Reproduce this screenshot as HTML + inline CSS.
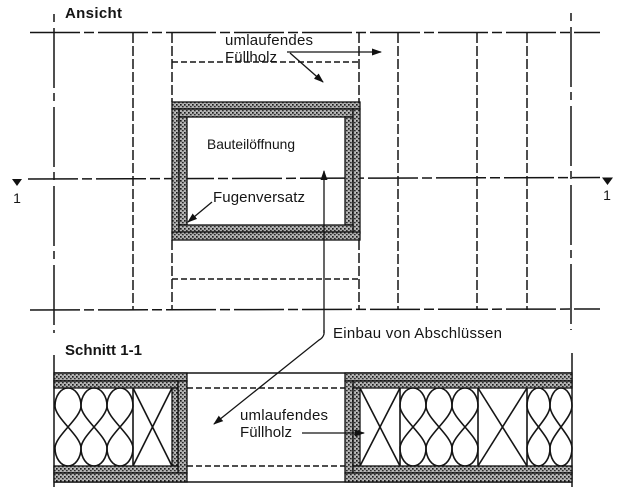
<!DOCTYPE html>
<html>
<head>
<meta charset="utf-8">
<style>
html,body{margin:0;padding:0;background:#fff;}
svg{display:block;}
text{font-family:"Liberation Sans",Arial,sans-serif;fill:#151515;}
</style>
</head>
<body>
<svg width="622" height="487" viewBox="0 0 622 487" xmlns="http://www.w3.org/2000/svg">
<defs>
  <pattern id="st" width="4" height="4" patternUnits="userSpaceOnUse">
    <rect width="4" height="4" fill="#a0a0a0"/>
    <rect x="0" y="0" width="1.6" height="1.6" fill="#1a1a1a"/>
    <rect x="2" y="2" width="1.6" height="1.2" fill="#2a2a2a"/>
    <rect x="2.6" y="0.3" width="1" height="1" fill="#ececec"/>
    <rect x="0.4" y="2.6" width="1" height="1" fill="#e4e4e4"/>
  </pattern>
  <marker id="ah" markerWidth="10" markerHeight="8" refX="9" refY="4" orient="auto" markerUnits="userSpaceOnUse">
    <path d="M0,0.5 L10,4 L0,7.5 Z" fill="#111"/>
  </marker>
</defs>

<g stroke="#151515" fill="none" stroke-width="1.5">
  <!-- ===== ANSICHT ===== -->
  <line x1="30" y1="32.5" x2="600" y2="32.5" stroke-dasharray="50 4 10 4"/>
  <line x1="30" y1="310" x2="600" y2="309" stroke-dasharray="50 4 10 4"/>
  <line x1="28" y1="179" x2="600" y2="177.5" stroke-dasharray="50 4 10 4"/>
  <line x1="54" y1="14" x2="54" y2="333" stroke-dasharray="8 6 60 5"/>
  <line x1="571" y1="13" x2="571" y2="330" stroke-dasharray="8 6 60 5"/>
  <g stroke-dasharray="10 3">
    <line x1="133" y1="33" x2="133" y2="310"/>
    <line x1="398" y1="33" x2="398" y2="310"/>
    <line x1="477" y1="33" x2="477" y2="310"/>
    <line x1="527" y1="33" x2="527" y2="310"/>
    <line x1="172" y1="33" x2="172" y2="102"/>
    <line x1="359" y1="33" x2="359" y2="102"/>
    <line x1="172" y1="240" x2="172" y2="310"/>
    <line x1="359" y1="240" x2="359" y2="310"/>
  </g>
  <g stroke-dasharray="6 3">
    <line x1="172" y1="62" x2="359" y2="62"/>
    <line x1="172" y1="279" x2="359" y2="279"/>
  </g>
</g>

<!-- section markers -->
<path d="M12,179 L22,179 L17,186 Z" fill="#111"/>
<text x="17" y="203" font-size="14" text-anchor="middle">1</text>
<path d="M602,177.5 L613,177.5 L607.5,185 Z" fill="#111"/>
<text x="607" y="200" font-size="14" text-anchor="middle">1</text>

<!-- frame boards (Ansicht) -->
<g fill="url(#st)" stroke="#111" stroke-width="1.3">
  <rect x="172" y="102" width="188" height="7"/>
  <rect x="179" y="109" width="174" height="8"/>
  <rect x="172" y="109" width="7" height="124"/>
  <rect x="179" y="117" width="8" height="108"/>
  <rect x="345" y="117" width="8" height="108"/>
  <rect x="353" y="109" width="7" height="124"/>
  <rect x="179" y="225" width="174" height="7"/>
  <rect x="172" y="232" width="188" height="8"/>
</g>

<!-- labels Ansicht -->
<text x="65" y="18" font-size="15" font-weight="bold" textLength="57">Ansicht</text>
<text x="225" y="45" font-size="15" textLength="88">umlaufendes</text>
<text x="225" y="62" font-size="15" textLength="52">Füllholz</text>
<text x="207" y="149" font-size="14" textLength="88" lengthAdjust="spacingAndGlyphs">Bauteilöffnung</text>
<text x="213" y="202" font-size="15" textLength="92">Fugenversatz</text>

<g stroke="#151515" stroke-width="1.3" fill="none">
  <line x1="287" y1="52" x2="381" y2="52" marker-end="url(#ah)"/>
  <line x1="290" y1="53" x2="323" y2="82" marker-end="url(#ah)"/>
  <line x1="212" y1="202" x2="188" y2="222" marker-end="url(#ah)"/>
  <line x1="324" y1="333" x2="324" y2="171" marker-end="url(#ah)"/>
  <path d="M324,330 L324,334 Q323,338 319,340 L214,424" marker-end="url(#ah)"/>
</g>
<text x="333" y="338" font-size="15" textLength="169">Einbau von Abschlüssen</text>

<!-- ===== SCHNITT ===== -->
<text x="65" y="355" font-size="15" font-weight="bold" textLength="77">Schnitt 1-1</text>

<g stroke="#151515" stroke-width="1.5" fill="none">
  <line x1="54" y1="355" x2="54" y2="487"/>
  <line x1="572" y1="353" x2="572" y2="487"/>
  <line x1="54" y1="373" x2="572" y2="373"/>
  <line x1="54" y1="482" x2="572" y2="482"/>
  <g stroke-dasharray="6 3">
    <line x1="187" y1="388" x2="345" y2="388"/>
    <line x1="187" y1="466" x2="345" y2="466"/>
  </g>
</g>

<g fill="url(#st)" stroke="#111" stroke-width="1.3">
  <rect x="54" y="373" width="133" height="8"/>
  <rect x="54" y="381" width="124" height="7"/>
  <rect x="178" y="381" width="9" height="92"/>
  <rect x="172" y="388" width="6" height="78"/>
  <rect x="54" y="466" width="124" height="7"/>
  <rect x="54" y="473" width="133" height="9"/>
  <rect x="345" y="373" width="227" height="8"/>
  <rect x="353" y="381" width="219" height="7"/>
  <rect x="345" y="381" width="8" height="92"/>
  <rect x="353" y="388" width="7" height="78"/>
  <rect x="353" y="466" width="219" height="7"/>
  <rect x="345" y="473" width="227" height="9"/>
</g>

<!-- insulation -->
<g stroke="#151515" stroke-width="1.6" fill="none">
  <path d="M55,406 C55,418 81,436 81,448 A13,18 0 0 1 55,448 C55,436 81,418 81,406 A13,18 0 0 0 55,406 Z"/>
  <path d="M81,406 C81,418 107,436 107,448 A13,18 0 0 1 81,448 C81,436 107,418 107,406 A13,18 0 0 0 81,406 Z"/>
  <path d="M107,406 C107,418 133,436 133,448 A13,18 0 0 1 107,448 C107,436 133,418 133,406 A13,18 0 0 0 107,406 Z"/>
  <line x1="133" y1="388" x2="133" y2="466"/>
  <line x1="133" y1="388" x2="172" y2="466"/>
  <line x1="172" y1="388" x2="133" y2="466"/>
  <line x1="360" y1="388" x2="400" y2="466"/>
  <line x1="400" y1="388" x2="360" y2="466"/>
  <line x1="400" y1="388" x2="400" y2="466"/>
  <path d="M400,406 C400,418 426,436 426,448 A13,18 0 0 1 400,448 C400,436 426,418 426,406 A13,18 0 0 0 400,406 Z"/>
  <path d="M426,406 C426,418 452,436 452,448 A13,18 0 0 1 426,448 C426,436 452,418 452,406 A13,18 0 0 0 426,406 Z"/>
  <path d="M452,406 C452,418 478,436 478,448 A13,18 0 0 1 452,448 C452,436 478,418 478,406 A13,18 0 0 0 452,406 Z"/>
  <line x1="478" y1="388" x2="478" y2="466"/>
  <line x1="478" y1="388" x2="527" y2="466"/>
  <line x1="527" y1="388" x2="478" y2="466"/>
  <line x1="527" y1="388" x2="527" y2="466"/>
  <path d="M527,406 C527,418 550,436 550,448 A11.5,18 0 0 1 527,448 C527,436 550,418 550,406 A11.5,18 0 0 0 527,406 Z"/>
  <path d="M550,406 C550,418 572,436 572,448 A11,18 0 0 1 550,448 C550,436 572,418 572,406 A11,18 0 0 0 550,406 Z"/>
</g>

<text x="240" y="420" font-size="15" textLength="88">umlaufendes</text>
<text x="240" y="437" font-size="15" textLength="52">Füllholz</text>
<line x1="302" y1="433" x2="364" y2="433" stroke="#151515" stroke-width="1.3" marker-end="url(#ah)"/>
</svg>
</body>
</html>
